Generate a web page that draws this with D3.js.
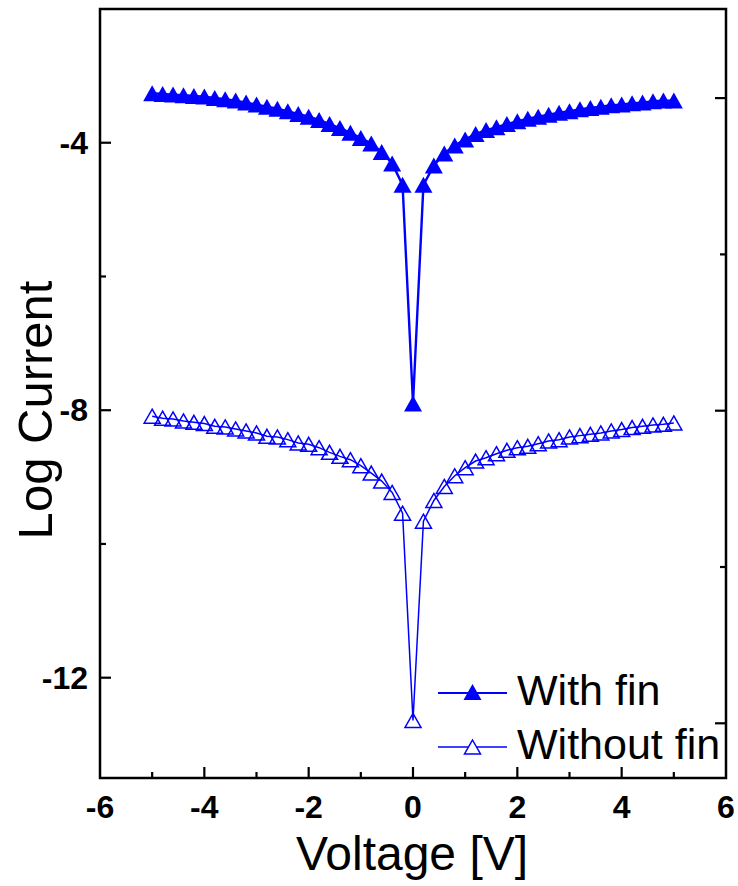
<!DOCTYPE html>
<html>
<head>
<meta charset="utf-8">
<script src="https://cdn.jsdelivr.net/npm/d3@7"></script>
<style>
  html, body { margin: 0; padding: 0; background: #fff; }
  svg { display: block; font-family: Arial, "Liberation Sans", sans-serif; }
</style>
</head>
<body>
<svg id="chart" width="738" height="886"></svg>
<script>
// Bias sweep, -5 V to +5 V in 0.2 V steps
const voltage = d3.range(51).map(i => +(-5 + i * 0.2).toFixed(1));

// log10 of measured current
const withFin = [
  -3.26, -3.27, -3.28, -3.29, -3.30, -3.31, -3.33, -3.35, -3.37, -3.40,
  -3.43, -3.46, -3.49, -3.53, -3.57, -3.61, -3.66, -3.72, -3.78, -3.85,
  -3.93, -4.01, -4.14, -4.31, -4.63,
  -7.90,
  -4.63, -4.34, -4.16, -4.04, -3.95, -3.87, -3.81, -3.77, -3.72, -3.68,
  -3.64, -3.61, -3.58, -3.55, -3.53, -3.50, -3.48, -3.46, -3.44, -3.43,
  -3.41, -3.40, -3.38, -3.37, -3.37
];
const withoutFin = [
  -8.09, -8.12, -8.13, -8.16, -8.18, -8.20, -8.24, -8.25, -8.28, -8.31,
  -8.34, -8.39, -8.40, -8.44, -8.49, -8.51, -8.56, -8.63, -8.69, -8.74,
  -8.83, -8.94, -9.06, -9.23, -9.54,
  -12.64,
  -9.66, -9.35, -9.14, -8.98, -8.86, -8.76, -8.71, -8.65, -8.60, -8.56,
  -8.54, -8.50, -8.46, -8.44, -8.40, -8.38, -8.36, -8.34, -8.31, -8.29,
  -8.26, -8.24, -8.22, -8.21, -8.19
];

const seriesNames = ["With fin", "Without fin"];
const xMajorTicks = [-6, -4, -2, 0, 2, 4, 6];
const xMinorTicks = [-5, -3, -1, 1, 3, 5];
const yMajorTicks = [-4, -8, -12];
const yMinorTicks = [-6, -10];
const rightMajorTicks = [-4, -8, -12];
const rightMinorTicks = [-6, -10];

const svg = d3.select("#chart");
const plotL = 100, plotR = 726, plotT = 9, plotB = 778;
const blue = "#0000ff";

const x = d3.scaleLinear().domain([-6, 6]).range([plotL, plotR]);
const y = d3.scaleLinear().domain([-13.5, -2]).range([plotB, plotT]);
// the opposite axis carries its own linked scale
const yR = d3.scaleLinear().domain([-12.7, -2.86]).range([plotB, plotT]);

// frame
svg.append("rect")
  .attr("x", plotL).attr("y", plotT)
  .attr("width", plotR - plotL).attr("height", plotB - plotT)
  .attr("fill", "none").attr("stroke", "#000").attr("stroke-width", 2.5);

// inward ticks
function ticks(values, len, fn) {
  values.forEach(v => fn(v, len));
}
const tickG = svg.append("g").attr("stroke", "#000").attr("stroke-width", 2.2);
const xt = (v, len) => tickG.append("line")
  .attr("x1", x(v)).attr("x2", x(v)).attr("y1", plotB).attr("y2", plotB - len);
ticks(xMajorTicks.slice(1, -1), 11, xt);
ticks(xMinorTicks, 6, xt);
const yt = (v, len) => tickG.append("line")
  .attr("x1", plotL).attr("x2", plotL + len).attr("y1", y(v)).attr("y2", y(v));
ticks(yMajorTicks, 11, yt);
ticks(yMinorTicks, 6, yt);
const rt = (v, len) => tickG.append("line")
  .attr("x1", plotR).attr("x2", plotR - len).attr("y1", yR(v)).attr("y2", yR(v));
ticks(rightMajorTicks, 11, rt);
ticks(rightMinorTicks, 6, rt);

// tick labels
svg.append("g").selectAll("text").data(xMajorTicks).join("text")
  .attr("x", d => x(d)).attr("y", 818)
  .attr("text-anchor", "middle")
  .attr("font-size", 32).attr("font-weight", "bold")
  .text(d => d);
svg.append("g").selectAll("text").data(yMajorTicks).join("text")
  .attr("x", 88).attr("y", d => y(d) + 11)
  .attr("text-anchor", "end")
  .attr("font-size", 32).attr("font-weight", "bold")
  .text(d => d);

// axis titles
svg.append("text")
  .attr("x", 412).attr("y", 870)
  .attr("text-anchor", "middle").attr("font-size", 48)
  .text("Voltage [V]");
svg.append("text")
  .attr("transform", "translate(52,410) rotate(-90)")
  .attr("text-anchor", "middle").attr("font-size", 49)
  .text("Log Current");

// triangle marker centred on its bounding box
function tri(w, h) {
  return `M0,${-h / 2}L${w / 2},${h / 2}L${-w / 2},${h / 2}Z`;
}

const line = d3.line().x(d => x(d[0])).y(d => y(d[1]));
const ptsWith = voltage.map((v, i) => [v, withFin[i]]);
const ptsWithout = voltage.map((v, i) => [v, withoutFin[i]]);

// Without fin: thin line, open triangles
svg.append("path").datum(ptsWithout)
  .attr("d", line).attr("fill", "none")
  .attr("stroke", blue).attr("stroke-width", 1.5);
svg.append("g").selectAll("path").data(ptsWithout).join("path")
  .attr("transform", d => `translate(${x(d[0])},${y(d[1])})`)
  .attr("d", tri(16, 14))
  .attr("fill", "none").attr("stroke", blue).attr("stroke-width", 1.5);

// With fin: heavier line, solid triangles
svg.append("path").datum(ptsWith)
  .attr("d", line).attr("fill", "none")
  .attr("stroke", blue).attr("stroke-width", 2.4);
svg.append("g").selectAll("path").data(ptsWith).join("path")
  .attr("transform", d => `translate(${x(d[0])},${y(d[1])})`)
  .attr("d", tri(18, 16))
  .attr("fill", blue).attr("stroke", "none");

// legend
const legend = [
  { name: seriesNames[0], yPos: 693, filled: true },
  { name: seriesNames[1], yPos: 747, filled: false }
];
legend.forEach(l => {
  svg.append("line")
    .attr("x1", 438).attr("x2", 507).attr("y1", l.yPos).attr("y2", l.yPos)
    .attr("stroke", blue).attr("stroke-width", l.filled ? 2 : 1.5);
  svg.append("path")
    .attr("transform", `translate(472.5,${l.yPos - (l.filled ? 1 : 0)})`)
    .attr("d", l.filled ? tri(18, 16) : tri(16, 14))
    .attr("fill", l.filled ? blue : "#fff")
    .attr("stroke", l.filled ? "none" : blue)
    .attr("stroke-width", 1.5);
  svg.append("text")
    .attr("x", 517).attr("y", l.yPos + 12)
    .attr("font-size", 43)
    .text(l.name);
});
</script>
</body>
</html>
